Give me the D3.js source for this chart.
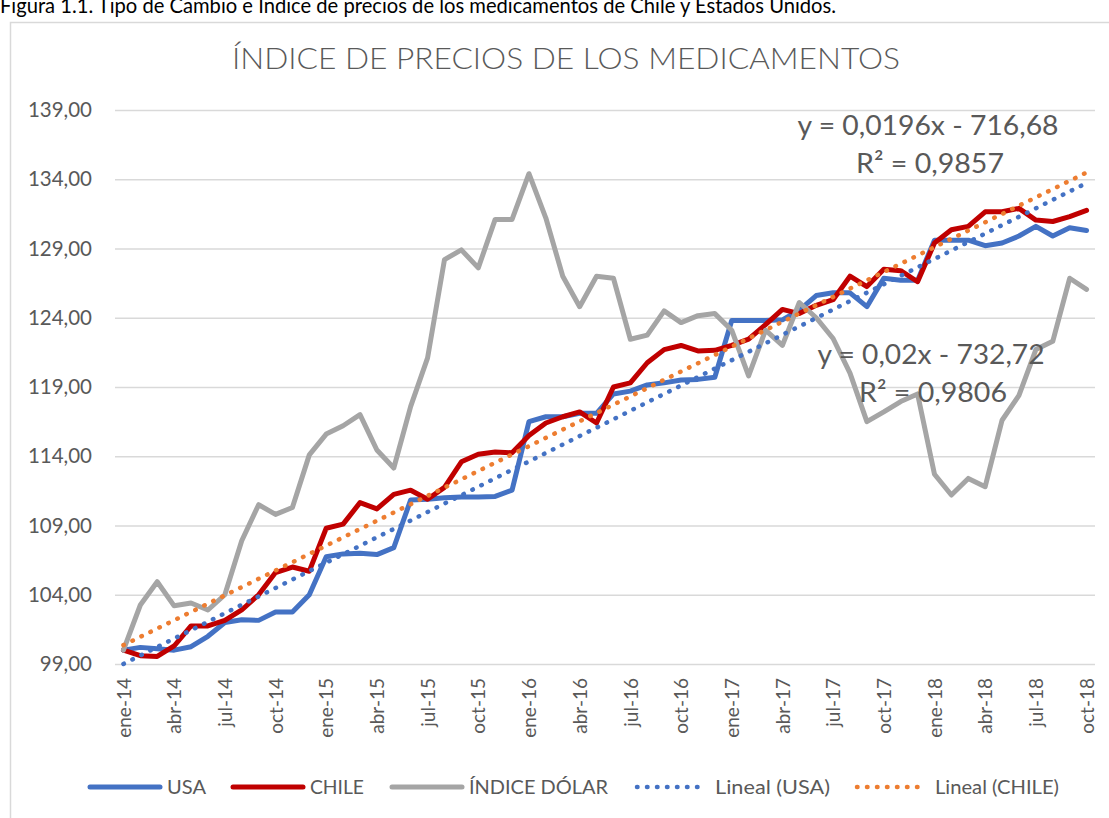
<!DOCTYPE html>
<html>
<head>
<meta charset="utf-8">
<script src="https://cdn.jsdelivr.net/npm/d3@7"></script>
<style>
  body { margin: 0; background: #fff; }
  text { font-family: Lato, "Open Sans", sans-serif; }
</style>
</head>
<body>
<div id="chart"></div>
<script>
// categories: monthly, ene-14 .. oct-18
var monthNames = ["ene","feb","mar","abr","may","jun","jul","ago","sep","oct","nov","dic"];
var years = ["14","15","16","17","18"];

var usa = [100.0,100.2,100.1,100.0,100.25,101.0,102.0,102.2,102.15,102.75,
  102.75,104.0,106.75,106.95,107.0,106.9,107.4,110.85,110.9,111.0,
  111.05,111.05,111.1,111.55,116.5,116.85,116.85,117.1,117.1,118.5,
  118.7,119.15,119.3,119.5,119.55,119.7,123.8,123.8,123.8,123.85,
  124.55,125.6,125.8,125.8,124.8,126.85,126.7,126.7,129.6,129.6,
  129.6,129.2,129.4,129.9,130.6,129.9,130.5,130.3];

var chile = [100.0,99.6,99.55,100.3,101.75,101.75,102.15,102.9,104.0,105.6,
  106.0,105.7,108.8,109.1,110.65,110.2,111.25,111.55,110.9,111.75,
  113.6,114.15,114.3,114.25,115.5,116.4,116.85,117.2,116.4,119.0,
  119.3,120.75,121.7,122.0,121.6,121.65,122.0,122.45,123.5,124.6,
  124.3,124.9,125.3,127.0,126.25,127.5,127.4,126.6,129.4,130.35,
  130.6,131.65,131.65,131.9,131.05,130.95,131.3,131.75];

var dolar = [100.0,103.26,104.94,103.2,103.4,102.9,104.0,107.9,110.5,109.8,
  110.3,114.1,115.6,116.2,117.0,114.45,113.15,117.6,121.1,128.2,
  128.9,127.6,131.1,131.1,134.4,131.2,127.0,124.8,127.0,126.85,
  122.45,122.75,124.5,123.65,124.15,124.3,123.1,119.8,123.1,122.0,
  125.1,124.0,122.5,120.0,116.5,117.2,117.95,118.5,112.7,111.2,
  112.4,111.8,116.6,118.4,121.7,122.3,126.85,126.05];

var yTicks = [99,104,109,114,119,124,129,134,139];

var seriesNames = ["USA","CHILE","ÍNDICE DÓLAR","Lineal (USA)","Lineal (CHILE)"];
var trendText = [["y = 0,0196x - 716,68","R² = 0,9857"],["y = 0,02x - 732,72","R² = 0,9806"]];

var title = "ÍNDICE DE PRECIOS DE LOS MEDICAMENTOS";
var caption = "Figura 1.1. Tipo de Cambio e Índice de precios de los medicamentos de Chile y Estados Unidos.";

var months = [];
years.forEach(function(yy) {
  monthNames.forEach(function(m) { months.push(m + "-" + yy); });
});
months = months.slice(0, usa.length);

var W = 1109, H = 818;
var svg = d3.select("#chart").append("svg")
  .attr("width", W).attr("height", H);

svg.append("rect").attr("width", W).attr("height", H).attr("fill", "#fff");

// caption above the chart box (its top is cut off in the source)
svg.append("text")
  .attr("x", 0).attr("y", 13)
  .attr("font-size", 22)
  .attr("fill", "#000")
  .attr("textLength", 836).attr("lengthAdjust", "spacingAndGlyphs")
  .text(caption);

// chart frame
svg.append("rect")
  .attr("x", 10.5).attr("y", 22.5)
  .attr("width", W).attr("height", H)
  .attr("fill", "none").attr("stroke", "#D9D9D9").attr("stroke-width", 1.5);

var plotL = 115, plotR = 1095, plotT = 110, plotB = 664;

var x = d3.scalePoint().domain(months).range([plotL, plotR]).padding(0.5);
var y = d3.scaleLinear().domain([99, 139]).range([plotB, plotT]);

// title
svg.append("text")
  .attr("x", 566).attr("y", 69)
  .attr("text-anchor", "middle")
  .attr("font-size", 30).attr("font-weight", 300)
  .attr("fill", "#595959")
  .attr("textLength", 668).attr("lengthAdjust", "spacingAndGlyphs")
  .text(title);

// grid + y labels
var yAxis = svg.append("g")
  .attr("transform", "translate(" + plotL + ",0)")
  .call(d3.axisLeft(y).tickValues(yTicks).tickSize(-(plotR - plotL))
    .tickPadding(23)
    .tickFormat(function(d) { return d3.format(".2f")(d).replace(".", ","); }));
yAxis.select(".domain").remove();
yAxis.selectAll("line").attr("stroke", "#D9D9D9").attr("stroke-width", 1.5);
yAxis.selectAll("text").attr("fill", "#595959").attr("font-size", 20.5)
  .attr("font-family", "Lato, 'Open Sans', sans-serif");

// x labels every 3 months
var xAxis = svg.append("g")
  .attr("transform", "translate(0," + plotB + ")")
  .call(d3.axisBottom(x).tickValues(months.filter(function(d, i) { return i % 3 === 0; }))
    .tickSize(0).tickPadding(0));
xAxis.select(".domain").remove();
xAxis.selectAll("text")
  .attr("fill", "#595959").attr("font-size", 19)
  .attr("font-family", "Lato, 'Open Sans', sans-serif")
  .attr("text-anchor", "end")
  .attr("dy", "0.35em")
  .attr("transform", "translate(0,14) rotate(-90)")
  .attr("x", 0).attr("y", 0);

var line = d3.line()
  .x(function(d, i) { return x(months[i]); })
  .y(function(d) { return y(d); });

function drawSeries(vals, color) {
  svg.append("path")
    .datum(vals)
    .attr("fill", "none")
    .attr("stroke", color)
    .attr("stroke-width", 5)
    .attr("stroke-linejoin", "round")
    .attr("stroke-linecap", "round")
    .attr("d", line);
}
drawSeries(usa, "#4472C4");
drawSeries(chile, "#C00000");
drawSeries(dolar, "#A5A5A5");

// linear trend lines (least squares on the month index)
function fit(vals) {
  var n = vals.length, idx = d3.range(n);
  var mx = d3.mean(idx), my = d3.mean(vals);
  var sxy = d3.sum(idx, function(i) { return (i - mx) * (vals[i] - my); });
  var sxx = d3.sum(idx, function(i) { return (i - mx) * (i - mx); });
  var b = sxy / sxx, a = my - b * mx;
  return [a, a + b * (n - 1)];
}
function drawTrend(vals, color) {
  var ends = fit(vals);
  svg.append("path")
    .datum(ends)
    .attr("fill", "none")
    .attr("stroke", color)
    .attr("stroke-width", 4.5)
    .attr("stroke-linecap", "round")
    .attr("stroke-dasharray", "0.5 9.5")
    .attr("d", d3.line()
      .x(function(d, i) { return x(months[i === 0 ? 0 : months.length - 1]); })
      .y(function(d) { return y(d); }));
}
drawTrend(usa, "#4472C4");
drawTrend(chile, "#ED7D31");

// trend equations
var eqPos = [[928, 135, 261], [931, 364, 227]];
trendText.forEach(function(t, k) {
  var g = svg.append("g");
  g.append("text")
    .attr("x", eqPos[k][0]).attr("y", eqPos[k][1])
    .attr("text-anchor", "middle").attr("font-size", 27).attr("fill", "#595959")
    .attr("textLength", eqPos[k][2]).attr("lengthAdjust", "spacingAndGlyphs")
    .text(t[0]);
  g.append("text")
    .attr("x", eqPos[k][0] + 2).attr("y", eqPos[k][1] + 38)
    .attr("text-anchor", "middle").attr("font-size", 27).attr("fill", "#595959")
    .attr("textLength", 148).attr("lengthAdjust", "spacingAndGlyphs")
    .text(t[1]);
});

// legend
var legendLayout = [
  {x0: 90, x1: 160, tx: 167, tw: 39, color: "#4472C4", dotted: false},
  {x0: 233, x1: 303, tx: 310, tw: 54, color: "#C00000", dotted: false},
  {x0: 392, x1: 462, tx: 469, tw: 139, color: "#A5A5A5", dotted: false},
  {x0: 637, x1: 707, tx: 715, tw: 115, color: "#4472C4", dotted: true},
  {x0: 857, x1: 927, tx: 935, tw: 124, color: "#ED7D31", dotted: true}
];
var ly = 787;
var leg = svg.append("g").selectAll("g")
  .data(seriesNames)
  .enter().append("g");
leg.append("line")
  .attr("x1", function(d, i) { return legendLayout[i].x0; })
  .attr("x2", function(d, i) { return legendLayout[i].x1; })
  .attr("y1", ly).attr("y2", ly)
  .attr("stroke", function(d, i) { return legendLayout[i].color; })
  .attr("stroke-width", function(d, i) { return legendLayout[i].dotted ? 4.5 : 5; })
  .attr("stroke-linecap", "round")
  .attr("stroke-dasharray", function(d, i) { return legendLayout[i].dotted ? "0.5 9.5" : null; });
leg.append("text")
  .attr("x", function(d, i) { return legendLayout[i].tx; })
  .attr("y", ly + 7)
  .attr("font-size", 19.5)
  .attr("fill", "#595959")
  .attr("textLength", function(d, i) { return legendLayout[i].tw; })
  .attr("lengthAdjust", "spacingAndGlyphs")
  .text(function(d) { return d; });
</script>
</body>
</html>
